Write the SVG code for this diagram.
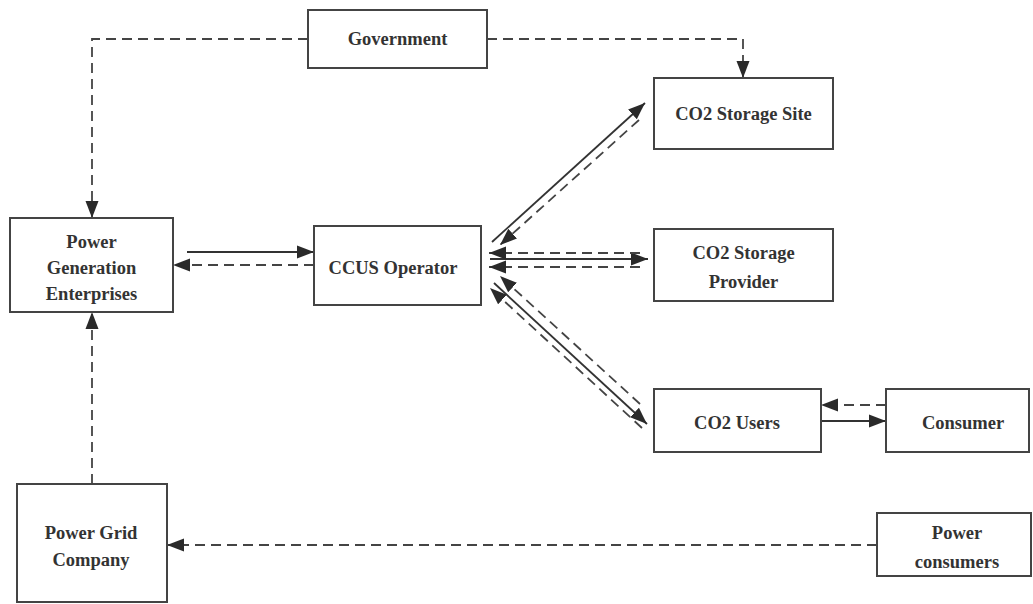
<svg xmlns="http://www.w3.org/2000/svg" width="1033" height="604" viewBox="0 0 1033 604">
<defs>
<style>
.box{fill:#fff;stroke:#444;stroke-width:2}
.t{font-family:"Liberation Serif","Times New Roman",serif;font-weight:bold;font-size:18.5px;fill:#333;text-anchor:middle}
.s{fill:none;stroke:#333;stroke-width:1.8}
.d{fill:none;stroke:#444;stroke-width:1.8;stroke-dasharray:10 6}
</style>
<marker id="ah" markerUnits="userSpaceOnUse" markerWidth="18" markerHeight="14" refX="17" refY="7" orient="auto">
<path d="M0,0.5 L17,7 L0,13.5 z" fill="#2a2a2a"/>
</marker>
</defs>
<rect width="1033" height="604" fill="#fff"/>
<g id="connectors">
<path class="d" d="M308,39 H92 V218" marker-end="url(#ah)"/>
<path class="d" d="M487,39 H743 V78" marker-end="url(#ah)"/>
<path class="s" d="M187,252 H314" marker-end="url(#ah)"/>
<path class="d" d="M314,265 H173" marker-end="url(#ah)"/>
<path class="d" d="M92,484 V312" marker-end="url(#ah)"/>
<path class="d" d="M877,545 H167" marker-end="url(#ah)"/>
<path class="s" d="M821,421 H886" marker-end="url(#ah)"/>
<path class="d" d="M886,405 H821" marker-end="url(#ah)"/>
<path class="s" d="M492,242 L645,103" marker-end="url(#ah)"/>
<path class="d" d="M639,120 L500,245" marker-end="url(#ah)"/>
<path class="s" d="M490,259 H648" marker-end="url(#ah)"/>
<path class="d" d="M640,253 H489" marker-end="url(#ah)"/>
<path class="d" d="M640,267 H489" marker-end="url(#ah)"/>
<path class="s" d="M494,283 L647,424" marker-end="url(#ah)"/>
<path class="d" d="M640,404 L500,276" marker-end="url(#ah)"/>
<path class="d" d="M642,428 L490,288" marker-end="url(#ah)"/>
</g>
<g id="government"><rect class="box" x="308" y="10" width="179" height="58"/><text class="t" x="397.5" y="45">Government</text></g>
<g id="power-generation"><rect class="box" x="10" y="218" width="163" height="94"/><text class="t" x="91.5" y="248">Power</text><text class="t" x="91.5" y="274">Generation</text><text class="t" x="91.5" y="300">Enterprises</text></g>
<g id="ccus-operator"><rect class="box" x="314" y="226" width="167" height="79"/><text class="t" x="393" y="274">CCUS Operator</text></g>
<g id="co2-storage-site"><rect class="box" x="654" y="78" width="179" height="71"/><text class="t" x="743.5" y="120">CO2 Storage Site</text></g>
<g id="co2-storage-provider"><rect class="box" x="654" y="229" width="179" height="72"/><text class="t" x="743.5" y="259">CO2 Storage</text><text class="t" x="743.5" y="288">Provider</text></g>
<g id="co2-users"><rect class="box" x="654" y="389" width="167" height="63"/><text class="t" x="737" y="429">CO2 Users</text></g>
<g id="consumer"><rect class="box" x="886" y="389" width="143" height="63"/><text class="t" x="963" y="429">Consumer</text></g>
<g id="power-grid"><rect class="box" x="17" y="484" width="150" height="118"/><text class="t" x="91" y="539">Power Grid</text><text class="t" x="91" y="566">Company</text></g>
<g id="power-consumers"><rect class="box" x="877" y="513" width="154" height="63"/><text class="t" x="957" y="539">Power</text><text class="t" x="957" y="568">consumers</text></g>
</svg>
